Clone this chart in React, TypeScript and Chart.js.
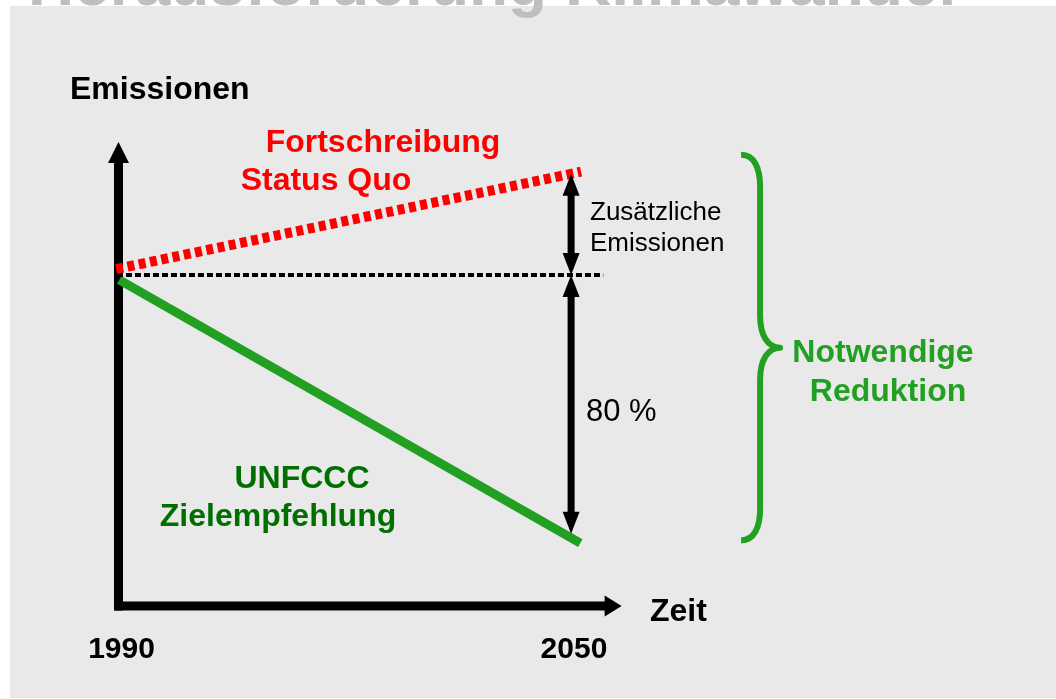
import React, { useEffect, useRef } from "react";
import { Chart, registerables } from "chart.js";

Chart.register(...registerables);

// ---- data (years on x, emission level in % of 1990 on y) ----
const STATUS_QUO_YEARS = [1989.7, 2050.4];
const STATUS_QUO = [101.8, 131.2];
const BASELINE_YEARS = [1989.8, 2053.3];
const BASELINE = [100, 100];
const TARGET_YEARS = [1990.1, 2050.3];
const TARGET = [98.5, 19.0];
const TICK_YEARS = [1990, 2050];
const TICK_LABELS = ["1990", "2050"];
const ARROW_YEAR = 2049.1;
const ARROW_LEVELS = [130.6, 100, 21.8];
const AXIS_ORIGIN = [1990, 0];
const AXIS_X_END = 2055.7;
const AXIS_Y_END = 140.2;
const BRACE_YEAR = 2071.3;
const BRACE_LEVELS = [136.3, 19.8];

// ---- texts ----
const TITLE = "Herausforderung Klimawandel";
const Y_TITLE = "Emissionen";
const X_TITLE = "Zeit";
const STATUS_QUO_LABEL = ["Fortschreibung", "Status Quo"];
const TARGET_LABEL = ["UNFCCC", "Zielempfehlung"];
const EXTRA_LABEL = ["Zusätzliche", "Emissionen"];
const REDUCTION_PCT = "80 %";
const NEEDED_LABEL = ["Notwendige", "Reduktion"];

// ---- view range of the scales ----
const X_MIN = 1974.526;
const X_MAX = 2112.42;
const Y_MIN = -28.1;
const Y_MAX = 183.08;

const FONT = '"Liberation Sans", Arial, Helvetica, sans-serif';
const RED = "#ff0000";
const GREEN = "#22a022";
const DARK_GREEN = "#006f00";
const BG = "#e9e9e9";

function toPoints(xs: number[], ys: number[]) {
  return xs.map((x, i) => ({ x, y: ys[i] }));
}

function head(
  ctx: CanvasRenderingContext2D,
  tx: number,
  ty: number,
  dx: number,
  dy: number,
  len: number,
  w: number
) {
  const bx = tx - dx * len;
  const by = ty - dy * len;
  const px = -dy;
  const py = dx;
  ctx.beginPath();
  ctx.moveTo(tx, ty);
  ctx.lineTo(bx + (px * w) / 2, by + (py * w) / 2);
  ctx.lineTo(bx - (px * w) / 2, by - (py * w) / 2);
  ctx.closePath();
  ctx.fill();
}

function text(
  ctx: CanvasRenderingContext2D,
  s: string,
  x: number,
  y: number,
  font: string,
  color: string,
  align: CanvasTextAlign
) {
  ctx.font = font;
  ctx.fillStyle = color;
  ctx.textAlign = align;
  ctx.textBaseline = "alphabetic";
  ctx.fillText(s, x, y);
}

const slidePlugin = {
  id: "slide",
  beforeDraw(chart: any) {
    const ctx: CanvasRenderingContext2D = chart.ctx;
    ctx.save();
    ctx.fillStyle = "#ffffff";
    ctx.fillRect(0, 0, chart.width, chart.height);
    ctx.fillStyle = BG;
    ctx.fillRect(10, 6, chart.width - 10, chart.height - 7);
    ctx.restore();
  },
  beforeDatasetsDraw(chart: any) {
    const ctx: CanvasRenderingContext2D = chart.ctx;
    const xs = chart.scales.x;
    const ys = chart.scales.y;
    const x0 = xs.getPixelForValue(AXIS_ORIGIN[0]);
    const y0 = ys.getPixelForValue(AXIS_ORIGIN[1]);
    const yTop = ys.getPixelForValue(AXIS_Y_END);
    const xEnd = xs.getPixelForValue(AXIS_X_END);
    ctx.save();
    ctx.fillStyle = "#000000";
    // y axis
    ctx.fillRect(x0 - 4.5, yTop + 18, 9, y0 + 4.5 - (yTop + 18));
    head(ctx, x0, yTop, 0, -1, 21, 21);
    // x axis
    ctx.fillRect(x0 - 4.5, y0 - 4.5, xEnd - 15 - (x0 - 4.5), 9);
    head(ctx, xEnd, y0, 1, 0, 17, 21);
    ctx.restore();
  },
  afterDatasetsDraw(chart: any) {
    const ctx: CanvasRenderingContext2D = chart.ctx;
    const xs = chart.scales.x;
    const ys = chart.scales.y;
    ctx.save();

    // double arrows
    const ax = xs.getPixelForValue(ARROW_YEAR);
    const [p0, p1, p2] = ARROW_LEVELS.map((v) => ys.getPixelForValue(v));
    ctx.fillStyle = "#000000";
    const hl = 22;
    const hw = 17;
    ctx.fillRect(ax - 3.5, p0 + hl - 1, 7, p1 - hl + 1 - (p0 + hl - 1));
    head(ctx, ax, p0, 0, -1, hl, hw);
    head(ctx, ax, p1, 0, 1, hl, hw);
    ctx.fillRect(ax - 3.5, p1 + hl - 1, 7, p2 - hl + 1 - (p1 + hl - 1));
    head(ctx, ax, p1, 0, -1, hl, hw);
    head(ctx, ax, p2, 0, 1, hl, hw);

    // brace
    const L = xs.getPixelForValue(BRACE_YEAR);
    const top = ys.getPixelForValue(BRACE_LEVELS[0]);
    const bot = ys.getPixelForValue(BRACE_LEVELS[1]);
    const mid = (top + bot) / 2;
    const S = L + 19;
    const T = L + 39;
    ctx.strokeStyle = GREEN;
    ctx.lineWidth = 6;
    ctx.lineJoin = "round";
    ctx.beginPath();
    ctx.moveTo(L, top);
    ctx.bezierCurveTo(L + 13, top, S, top + 13, S, top + 32);
    ctx.lineTo(S, mid - 32);
    ctx.bezierCurveTo(S, mid - 12, S + 8, mid, T, mid);
    ctx.bezierCurveTo(S + 8, mid, S, mid + 12, S, mid + 32);
    ctx.lineTo(S, bot - 32);
    ctx.bezierCurveTo(S, bot - 13, L + 13, bot, L, bot);
    ctx.stroke();

    // labels
    const B32 = `bold 32px ${FONT}`;
    text(ctx, Y_TITLE, 70, 99, B32, "#000000", "left");
    text(ctx, STATUS_QUO_LABEL[0], 383, 152, B32, RED, "center");
    text(ctx, STATUS_QUO_LABEL[1], 326, 190, B32, RED, "center");
    text(ctx, EXTRA_LABEL[0], 590, 220, `26px ${FONT}`, "#000000", "left");
    text(ctx, EXTRA_LABEL[1], 590, 251, `26px ${FONT}`, "#000000", "left");
    text(ctx, REDUCTION_PCT, 586, 421, `31px ${FONT}`, "#000000", "left");
    text(ctx, TARGET_LABEL[0], 302, 488, B32, DARK_GREEN, "center");
    text(ctx, TARGET_LABEL[1], 278, 526, B32, DARK_GREEN, "center");
    text(ctx, NEEDED_LABEL[0], 883, 362, B32, GREEN, "center");
    text(ctx, NEEDED_LABEL[1], 888, 401, B32, GREEN, "center");
    text(ctx, X_TITLE, 650, 621, B32, "#000000", "left");
    const shift = [3, -4];
    TICK_YEARS.forEach((yr, i) => {
      text(
        ctx,
        TICK_LABELS[i],
        xs.getPixelForValue(yr) + shift[i],
        658,
        `bold 30px ${FONT}`,
        "#000000",
        "center"
      );
    });
    ctx.restore();
  },
  afterDraw(chart: any) {
    const ctx: CanvasRenderingContext2D = chart.ctx;
    ctx.save();
    text(ctx, TITLE, 28, 5, `bold 64px ${FONT}`, "#bfbfbf", "left");
    ctx.restore();
  },
};

export default function App() {
  const ref = useRef<HTMLCanvasElement>(null);
  useEffect(() => {
    if (!ref.current) return;
    const chart = new Chart(ref.current, {
      type: "line",
      data: {
        datasets: [
          {
            label: "Fortschreibung Status Quo",
            data: toPoints(STATUS_QUO_YEARS, STATUS_QUO),
            borderColor: RED,
            borderWidth: 10,
            borderDash: [7, 4.5],
            borderCapStyle: "butt",
            pointRadius: 0,
            fill: false,
            order: 0,
          },
          {
            label: "1990",
            data: toPoints(BASELINE_YEARS, BASELINE),
            borderColor: "#000000",
            borderWidth: 4,
            borderDash: [6, 3],
            borderCapStyle: "butt",
            pointRadius: 0,
            fill: false,
            order: 1,
          },
          {
            label: "UNFCCC Zielempfehlung",
            data: toPoints(TARGET_YEARS, TARGET),
            borderColor: GREEN,
            borderWidth: 9,
            borderCapStyle: "butt",
            pointRadius: 0,
            fill: false,
            order: 2,
          },
        ],
      },
      options: {
        animation: false,
        responsive: false,
        maintainAspectRatio: false,
        layout: { padding: 0 },
        events: [],
        plugins: {
          legend: { display: false },
          tooltip: { enabled: false },
          title: { display: false },
        },
        scales: {
          x: { type: "linear", min: X_MIN, max: X_MAX, display: false },
          y: { type: "linear", min: Y_MIN, max: Y_MAX, display: false },
        },
      },
      plugins: [slidePlugin],
    } as any);
    return () => chart.destroy();
  }, []);
  return (
    <div style={{ position: "absolute", left: 0, top: 0, width: 1056, height: 699 }}>
      <canvas ref={ref} width={1056} height={699} style={{ display: "block" }} />
    </div>
  );
}
